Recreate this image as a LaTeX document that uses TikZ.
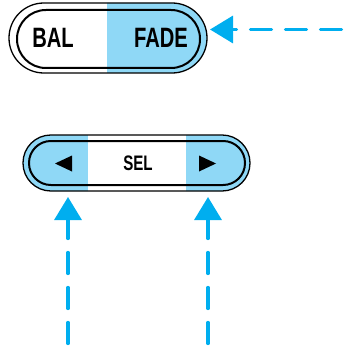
\documentclass[tikz,border=0pt]{standalone}
\usepackage{fontspec}
\newfontfamily\btnfont{Liberation Sans}[FakeStretch=0.72]
\usetikzlibrary{arrows.meta}
\definecolor{padblue}{RGB}{143,216,246}
\definecolor{arrowblue}{RGB}{0,174,239}
\begin{document}
\begin{tikzpicture}[x=1pt,y=-1pt,
  outerline/.style={line width=1.3pt},
  innerline/.style={line width=2pt},
  label/.style={inner sep=0pt,font=\btnfont\bfseries},
  pointer/.style={arrowblue,line width=3.3pt,line cap=round,
    dash pattern=on 21pt off 14pt,
    -{Triangle[length=23pt,width=27pt,line cap=butt]}}]
\useasboundingbox (0,0) rectangle (348,350);

% BAL / FADE button
\begin{scope}
\clip[rounded corners=34.9pt] (9,3) rectangle (207,73);
\fill[padblue] (107,0) rectangle (210,80);
\end{scope}
\draw[outerline,rounded corners=34.9pt] (9,3) rectangle (207,73);
\draw[innerline,rounded corners=28.9pt] (17,10) rectangle (200,68);
\node[label,font=\btnfont\bfseries\fontsize{28}{28}\selectfont] (bal) at (53,38) {BAL};
\node[label,font=\btnfont\bfseries\fontsize{28}{28}\selectfont] (fade) at (161,38) {FADE};

% SEL button
\begin{scope}
\clip[rounded corners=27.9pt] (23,135) rectangle (250,191);
\fill[padblue] (20,130) rectangle (88,195);
\fill[padblue] (186,130) rectangle (253,195);
\end{scope}
\draw[outerline,rounded corners=27.9pt] (23,135) rectangle (250,191);
\draw[innerline,rounded corners=21.9pt] (29,141) rectangle (245,185);
\node[label,font=\btnfont\bfseries\fontsize{21}{21}\selectfont] (sel) at (138,163) {SEL};
\fill (72,155.5) -- (55,163.5) -- (72,171.5) -- cycle;
\fill (199,155.5) -- (216,163.5) -- (199,171.5) -- cycle;

% pointers
\coordinate (fadetip) at (210,29.5);
\coordinate (fadestart) at (341.5,29.5);
\coordinate (lefttip) at (68,197);
\coordinate (leftstart) at (68,343.5);
\coordinate (righttip) at (208,197);
\coordinate (rightstart) at (208,343.5);
\draw[pointer] (fadestart) -- (fadetip);
\draw[pointer] (leftstart) -- (lefttip);
\draw[pointer] (rightstart) -- (righttip);
\end{tikzpicture}
\end{document}
